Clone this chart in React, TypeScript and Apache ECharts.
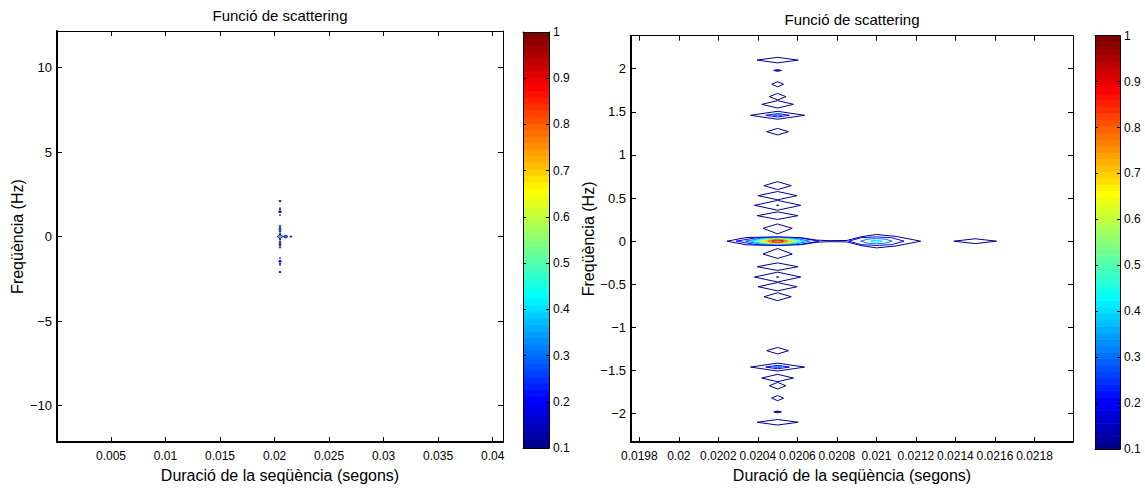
import React, { useEffect, useRef } from "react";
import * as echarts from "echarts";

// ---------- texts ----------
const titleText = "Funció de scattering";
const xName = "Duració de la seqüència (segons)";
const yName = "Freqüència (Hz)";

// ---------- axes ----------
const leftXRange = [0.00005, 0.04095];
const leftYRange = [-12.16, 12.16];
const leftXTicks = [0.005, 0.01, 0.015, 0.02, 0.025, 0.03, 0.035, 0.04];
const leftYTicks = [-10, -5, 0, 5, 10];

const rightXRange = [0.019758, 0.021995];
const rightYRange = [-2.33, 2.383];
const rightXTicks = [0.0198, 0.02, 0.0202, 0.0204, 0.0206, 0.0208, 0.021, 0.0212, 0.0214, 0.0216, 0.0218];
const rightYTicks = [-2, -1.5, -1, -0.5, 0, 0.5, 1, 1.5, 2];

const colorRange = [0.1, 1];
const colorbarTicks = [0.1, 0.2, 0.3, 0.4, 0.5, 0.6, 0.7, 0.8, 0.9, 1];
const colormapSize = 64;

// ---------- contour data ----------
// main peak at (0.0205 s, 0 Hz): nested contours for levels 0.2..0.9
const mainPeakDelay = 0.0205;
const mainLevels = [0.2, 0.3, 0.4, 0.5, 0.6, 0.7, 0.8, 0.9];
const mainHalfWidth = [0.00021, 0.000162, 0.000137, 0.000111, 0.000091, 0.000071, 0.0000506, 0.00003];
const mainHalfHeight = [0.046, 0.04, 0.034, 0.03, 0.025, 0.02, 0.016, 0.011];

// outer 0.1 contour joining the 0.0205 s and 0.021 s peaks (upper half, mirrored below)
const outerContourDelay = [0.020244, 0.02034, 0.0205, 0.02062, 0.0207, 0.02076, 0.02085, 0.02092, 0.021, 0.0211, 0.021224];
const outerContourFreq = [0, 0.042, 0.051, 0.04, 0.012, 0.006, 0.008, 0.05, 0.078, 0.055, 0];

// second peak (0.021 s)
const secondPeakDelay = 0.021;
const secondLevels = [0.2, 0.3, 0.4];
const secondHalfWidth = [0.00014, 0.00008, 0.00003];
const secondHalfHeight = [0.05, 0.03, 0.01];

// third peak (0.0215 s)
const thirdPeakDelay = 0.0215;
const thirdLevel = 0.1;
const thirdHalfWidth = 0.000108;
const thirdHalfHeight = 0.028;

// Doppler side lobes at 0.0205 s, level 0.1 (mirrored at negative frequencies)
const lobeFreq = [0.149, 0.296, 0.416, 0.528, 0.644, 1.27, 1.46, 1.587, 1.676, 1.82, 1.98, 2.1];
const lobeHalfWidth = [0.000074, 0.000103, 0.000117, 0.0000986, 0.000069, 0.000055, 0.000137, 0.00008, 0.000042, 0.00003, 0.00002, 0.000104];
const lobeUp = [0.051, 0.044, 0.057, 0.048, 0.046, 0.038, 0.046, 0.043, 0.038, 0.03, 0.01, 0.032];
const lobeDown = [0.064, 0.044, 0.057, 0.048, 0.046, 0.038, 0.046, 0.043, 0.038, 0.03, 0.01, 0.032];
const lobeLevel = 0.1;

// inner side-lobe contours
const innerLobeFreq = [1.46, 1.46, 0.416, 1.98];
const innerLobeLevel = [0.2, 0.3, 0.2, 0.2];
const innerLobeHalfWidth = [0.00006, 0.000022, 0.000006, 0.00001];
const innerLobeHalfHeight = [0.02, 0.006, 0.004, 0.004];

// ---------- helpers ----------
const FONT = "'Liberation Sans', Arial, Helvetica, sans-serif";

function jetRGB(i: number): string {
  const t = (i + 1) / colormapSize;
  const c = (v: number) => Math.max(0, Math.min(1, v));
  const r = c(1.5 - Math.abs(4 * t - 3));
  const g = c(1.5 - Math.abs(4 * t - 2));
  const b = c(1.5 - Math.abs(4 * t - 1));
  return `rgb(${Math.round(r * 255)},${Math.round(g * 255)},${Math.round(b * 255)})`;
}
function levelColor(level: number): string {
  const idx = Math.max(0, Math.min(colormapSize - 1, Math.floor(((level - colorRange[0]) / (colorRange[1] - colorRange[0])) * colormapSize + 1e-9)));
  return jetRGB(idx);
}
const lens = (xc: number, yc: number, hw: number, hh: number) => [
  [xc - hw, yc], [xc - 0.55 * hw, yc + 0.8 * hh], [xc, yc + hh], [xc + 0.55 * hw, yc + 0.8 * hh],
  [xc + hw, yc], [xc + 0.55 * hw, yc - 0.8 * hh], [xc, yc - hh], [xc - 0.55 * hw, yc - 0.8 * hh], [xc - hw, yc],
];
const diamond = (xc: number, yc: number, hw: number, up: number, down: number) => [
  [xc - hw, yc], [xc, yc + up], [xc + hw, yc], [xc, yc - down], [xc - hw, yc],
];

type Contour = { level: number; pts: number[][] };
function buildContours(): Contour[] {
  const out: Contour[] = [];
  const upper = outerContourDelay.map((x, i) => [x, outerContourFreq[i]]);
  const lower = upper.slice(1, -1).reverse().map(([x, y]) => [x, -y]);
  out.push({ level: 0.1, pts: [...upper, ...lower, upper[0]] });
  mainLevels.forEach((lv, i) => out.push({ level: lv, pts: lens(mainPeakDelay, 0, mainHalfWidth[i], mainHalfHeight[i]) }));
  secondLevels.forEach((lv, i) => out.push({ level: lv, pts: lens(secondPeakDelay, 0, secondHalfWidth[i], secondHalfHeight[i]) }));
  out.push({ level: thirdLevel, pts: diamond(thirdPeakDelay, 0, thirdHalfWidth, thirdHalfHeight, thirdHalfHeight) });
  lobeFreq.forEach((f, i) => {
    out.push({ level: lobeLevel, pts: diamond(mainPeakDelay, f, lobeHalfWidth[i], lobeUp[i], lobeDown[i]) });
    out.push({ level: lobeLevel, pts: diamond(mainPeakDelay, -f, lobeHalfWidth[i], lobeDown[i], lobeUp[i]) });
  });
  innerLobeFreq.forEach((f, i) => {
    [f, -f].forEach((ff) =>
      out.push({ level: innerLobeLevel[i], pts: diamond(mainPeakDelay, ff, innerLobeHalfWidth[i], innerLobeHalfHeight[i], innerLobeHalfHeight[i]) })
    );
  });
  return out;
}

const minus = (v: number, s: string) => (v < 0 ? "\u2212" + s.replace("-", "") : s);
const fmtNum = (dec: number) => (v: number) => minus(v, String(parseFloat(v.toFixed(dec))));

const labelStyle = { color: "#000", fontFamily: FONT, fontSize: 12 };
const nameStyle = { color: "#000", fontFamily: FONT, fontSize: 16 };

function xPair(grid: number, range: number[], ticks: number[], fmt: (v: number) => string, nameGap: number) {
  const base = { type: "value", gridIndex: grid, min: range[0], max: range[1], splitLine: { show: false } };
  return [
    {
      ...base, position: "bottom",
      axisLine: { onZero: false, lineStyle: { color: "#000", width: 2 } },
      axisTick: { inside: true, length: 5, customValues: ticks, lineStyle: { color: "#000" } },
      axisLabel: { customValues: ticks, formatter: fmt, margin: 8, hideOverlap: false, ...labelStyle },
      name: xName, nameLocation: "middle", nameGap,
      nameTextStyle: nameStyle,
    },
    {
      ...base, position: "top",
      axisLine: { onZero: false, lineStyle: { color: "#000", width: 1 } },
      axisTick: { inside: true, length: 5, customValues: ticks, lineStyle: { color: "#000" } },
      axisLabel: { show: false },
    },
  ];
}
function yPair(grid: number, range: number[], ticks: number[], fmt: (v: number) => string, nameGap: number) {
  const base = { type: "value", gridIndex: grid, min: range[0], max: range[1], splitLine: { show: false } };
  return [
    {
      ...base, position: "left",
      axisLine: { onZero: false, lineStyle: { color: "#000", width: 2 } },
      axisTick: { inside: true, length: 5, customValues: ticks, lineStyle: { color: "#000" } },
      axisLabel: { customValues: ticks, formatter: fmt, margin: 5, ...labelStyle, fontSize: 13 },
      name: yName, nameLocation: "middle", nameGap,
      nameTextStyle: nameStyle,
    },
    {
      ...base, position: "right",
      axisLine: { onZero: false, lineStyle: { color: "#000", width: 1 } },
      axisTick: { inside: true, length: 5, customValues: ticks, lineStyle: { color: "#000" } },
      axisLabel: { show: false },
    },
  ];
}
function cbX(grid: number) {
  const base = { type: "value", gridIndex: grid, min: 0, max: 1, z: 10, splitLine: { show: false }, axisTick: { show: false }, axisLabel: { show: false } };
  return [
    { ...base, position: "bottom", axisLine: { onZero: false, lineStyle: { color: "#000", width: 1 } } },
    { ...base, position: "top", axisLine: { onZero: false, lineStyle: { color: "#000", width: 1 } } },
  ];
}
function cbY(grid: number) {
  const base = { type: "value", gridIndex: grid, min: colorRange[0], max: colorRange[1], z: 10, splitLine: { show: false } };
  return [
    {
      ...base, position: "right",
      axisLine: { onZero: false, lineStyle: { color: "#000", width: 1 } },
      axisTick: { inside: true, length: 3, customValues: colorbarTicks, lineStyle: { color: "#000" } },
      axisLabel: { customValues: colorbarTicks, formatter: fmtNum(1), margin: 4, ...labelStyle },
    },
    {
      ...base, position: "left",
      axisLine: { onZero: false, lineStyle: { color: "#000", width: 1 } },
      axisTick: { inside: true, length: 3, customValues: colorbarTicks, lineStyle: { color: "#000" } },
      axisLabel: { show: false },
    },
  ];
}

export default function App() {
  const ref = useRef<HTMLDivElement>(null);
  useEffect(() => {
    if (!ref.current) return;
    const chart = echarts.init(ref.current, undefined, { renderer: "svg" });
    const contours = buildContours();
    const bands = Array.from({ length: colormapSize }, (_, i) => [
      0.5,
      colorRange[0] + ((colorRange[1] - colorRange[0]) * i) / colormapSize,
      colorRange[0] + ((colorRange[1] - colorRange[0]) * (i + 1)) / colormapSize,
      i,
    ]);
    const contourSeries = (xi: number, yi: number) =>
      contours.map((c) => ({
        type: "line", xAxisIndex: xi, yAxisIndex: yi, data: c.pts, symbol: "none", showSymbol: false,
        silent: true, animation: false, clip: true, z: 3,
        lineStyle: { color: levelColor(c.level), width: 1 },
      }));
    const cbSeries = (idx: number) => ({
      type: "custom", xAxisIndex: idx, yAxisIndex: idx, data: bands, silent: true, clip: false, z: 2,
      renderItem: (_p: any, api: any) => {
        const p0 = api.coord([0, api.value(1)]);
        const p1 = api.coord([1, api.value(2)]);
        return {
          type: "rect",
          shape: { x: p0[0], y: p1[1], width: p1[0] - p0[0], height: p0[1] - p1[1] + 0.6 },
          style: { fill: jetRGB(api.value(3)) },
        };
      },
    });

    const option: any = {
      animation: false,
      backgroundColor: "#fff",
      grid: [
        { left: 57, top: 31, width: 446, height: 416 },
        { left: 631, top: 35.7, width: 442, height: 413.3 },
        { left: 523, top: 32, width: 26, height: 416 },
        { left: 1095, top: 35.7, width: 25, height: 413.3 },
      ],
      xAxis: [
        ...xPair(0, leftXRange, leftXTicks, fmtNum(4), 20),
        ...xPair(1, rightXRange, rightXTicks, fmtNum(4), 19),
        ...cbX(2),
        ...cbX(3),
      ],
      yAxis: [
        ...yPair(0, leftYRange, leftYTicks, fmtNum(1), 32),
        ...yPair(1, rightYRange, rightYTicks, fmtNum(1), 33),
        ...cbY(2),
        ...cbY(3),
      ],
      graphic: [
        { type: "text", x: 280, y: 15, style: { text: titleText, textAlign: "center", textVerticalAlign: "middle", fill: "#000", font: `15px ${FONT}` } },
        { type: "text", x: 852, y: 19, style: { text: titleText, textAlign: "center", textVerticalAlign: "middle", fill: "#000", font: `15px ${FONT}` } },
      ],
      series: [
        ...contourSeries(0, 0),
        ...contourSeries(2, 2),
        cbSeries(4),
        cbSeries(6),
      ],
    };
    chart.setOption(option);
    return () => chart.dispose();
  }, []);
  return <div ref={ref} style={{ position: "absolute", left: 0, top: 0, width: 1145, height: 488, background: "#fff" }} />;
}
